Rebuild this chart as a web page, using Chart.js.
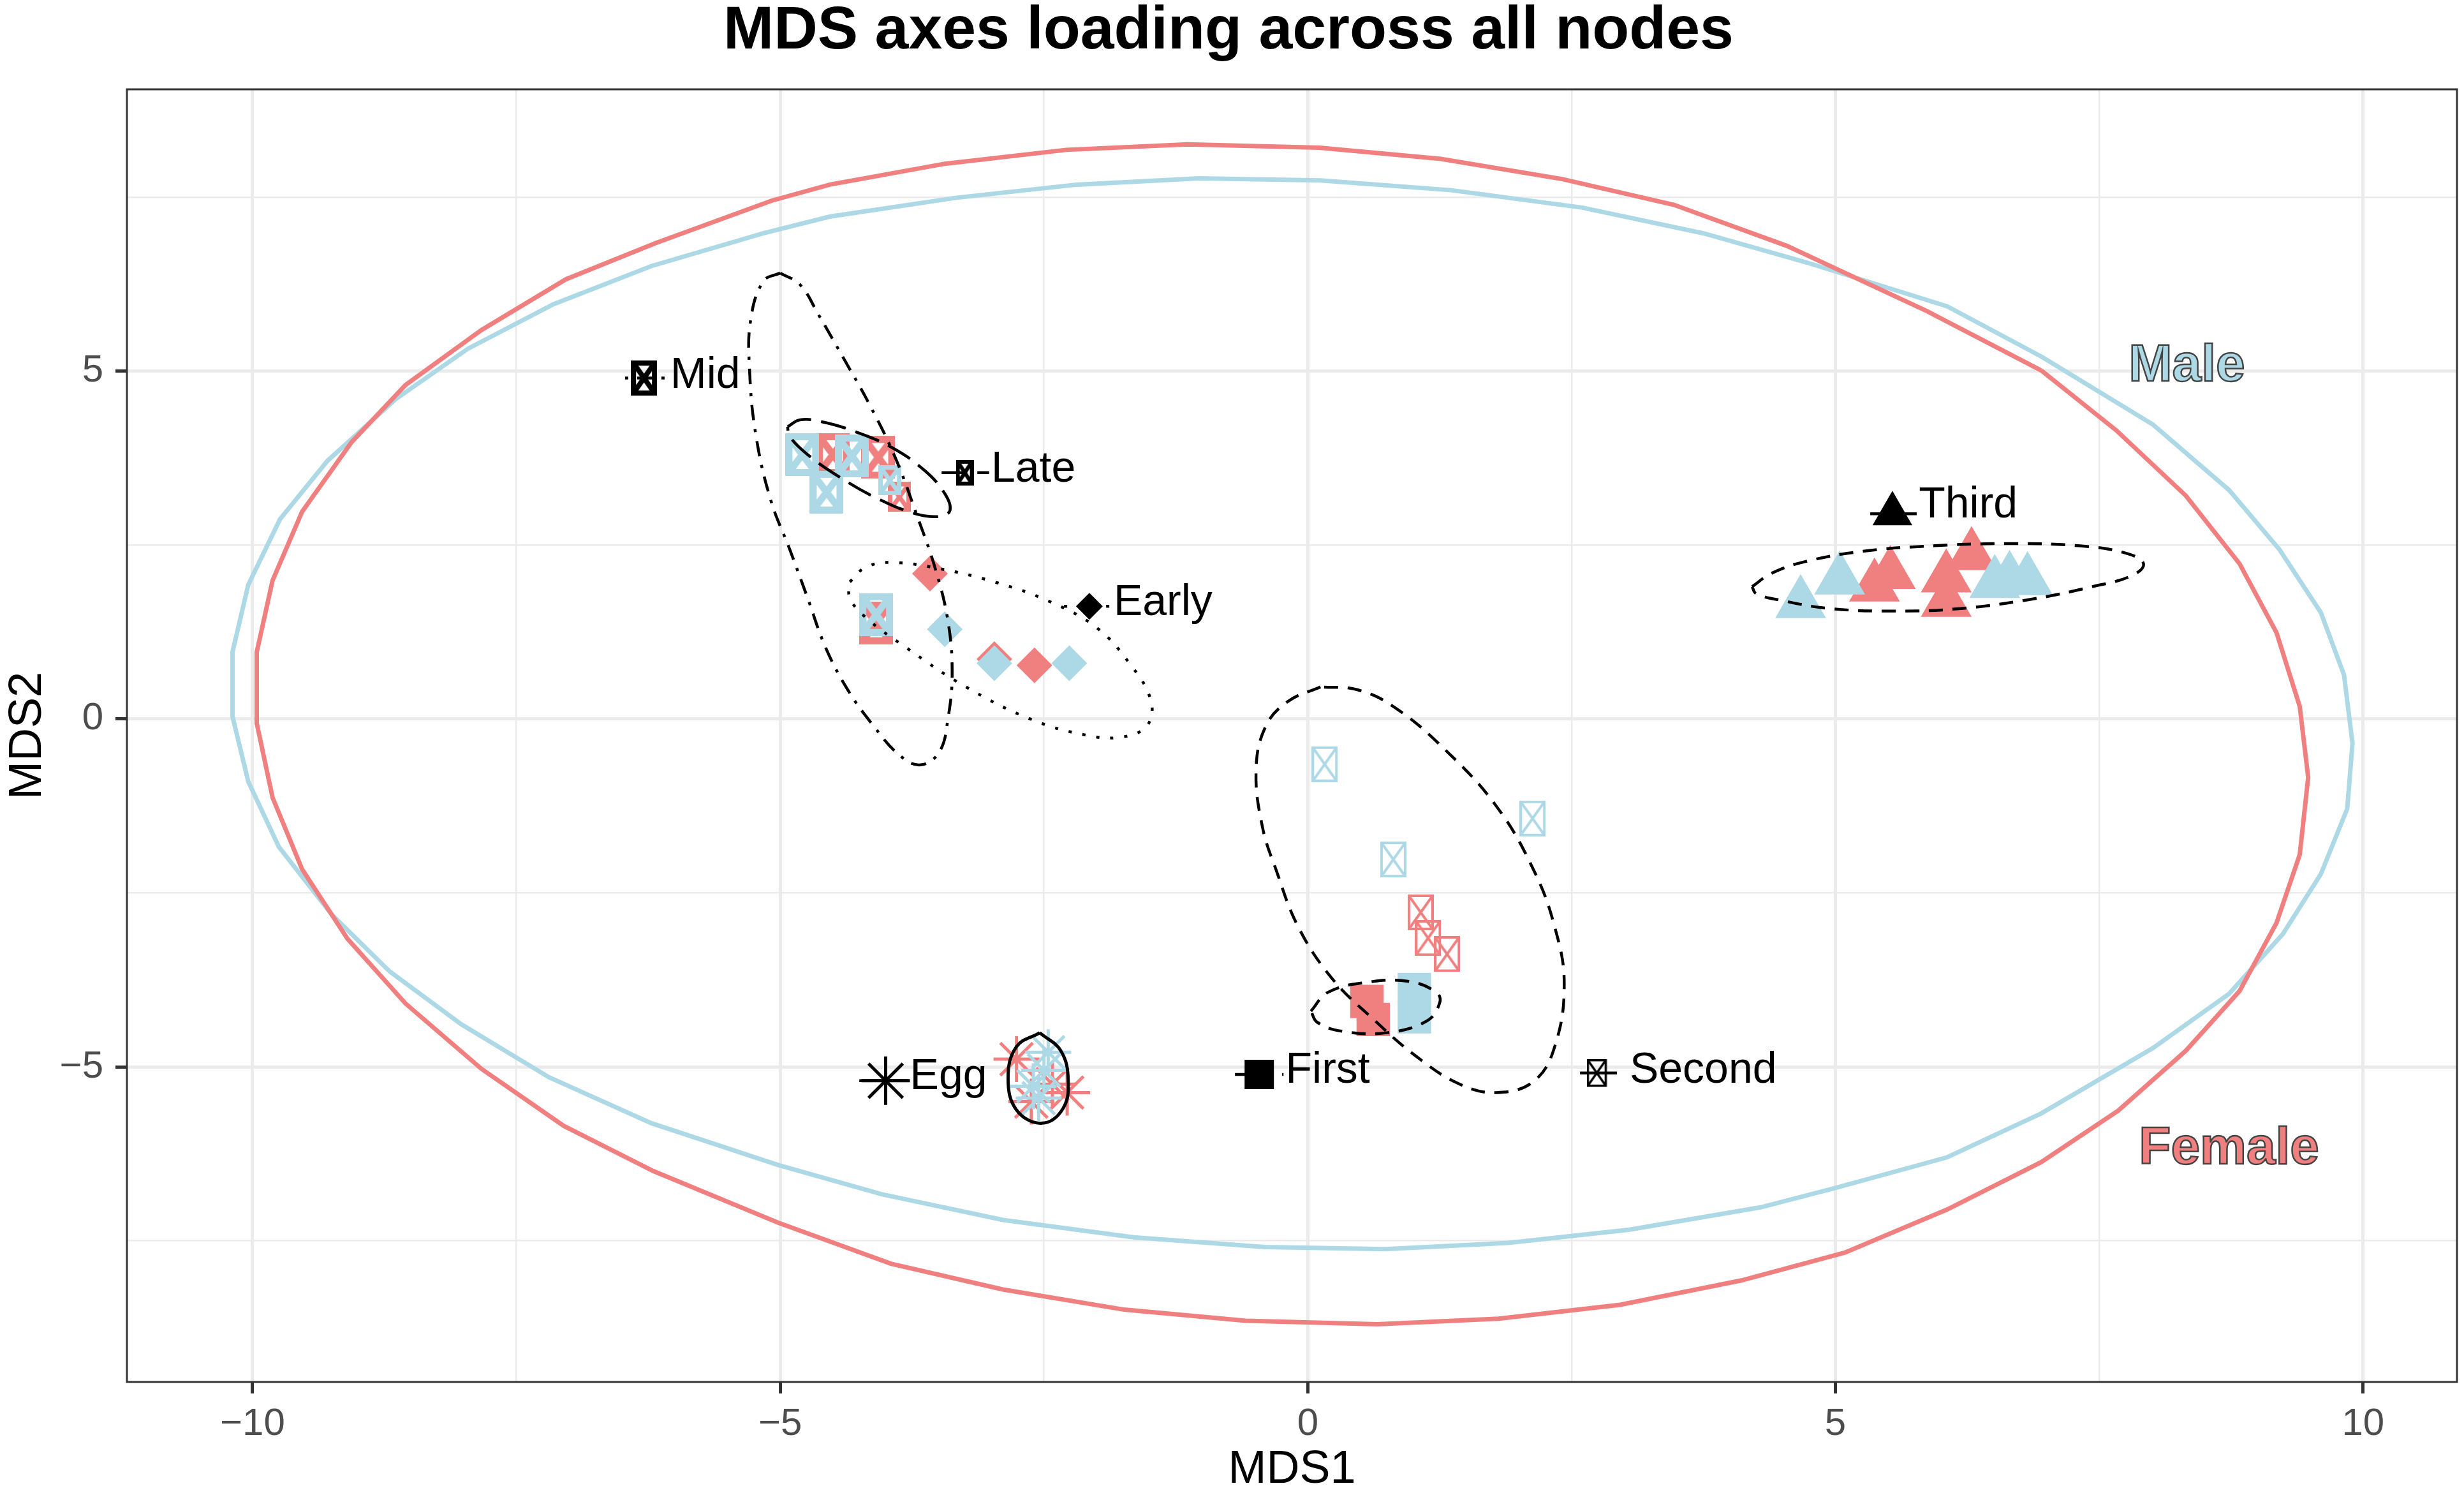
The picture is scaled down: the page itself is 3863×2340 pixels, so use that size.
<!DOCTYPE html>
<html>
<head>
<meta charset="utf-8">
<title>MDS axes loading across all nodes</title>
<script src="https://cdn.jsdelivr.net/npm/chart.js@4.4.1/dist/chart.umd.min.js"></script>
<style>
  html, body { margin: 0; padding: 0; background: #fff; }
  canvas { display: block; }
</style>
</head>
<body>
<canvas id="mds" width="3863" height="2340"></canvas>
<script>
// ---- axis ticks (minor ticks keep an empty label) ----
const xTickValues = [-10, -7.5, -5, -2.5, 0, 2.5, 5, 7.5, 10];
const xTickLabels = ['−10', '', '−5', '', '0', '', '5', '', '10'];
const yTickValues = [-7.5, -5, -2.5, 0, 2.5, 5, 7.5];
const yTickLabels = ['', '−5', '', '0', '', '5', ''];

// ---- stages: label text, key marker and key line (MDS units) ----
const stageNames  = ['Egg', 'Early', 'Mid', 'Late', 'First', 'Second', 'Third'];
const stageTextX  = [-3.77, -1.84, -6.04, -3.00, -0.21, 3.05, 5.79];
const stageTextY  = [-5.32, 1.49, 4.76, 3.41, -5.23, -5.23, 2.90];
const stageKeyX   = [-4.00, -2.07, -6.29, -3.25, -0.46, 2.74, 5.54];
const stageKeyY   = [-5.20, 1.62, 4.90, 3.54, -5.11, -5.09, 2.95];
const keyLineFrom = [-4.25, -2.31, -6.47, -3.47, -0.69, 2.58, 5.33];
const keyLineTo   = [-3.79, -1.84, -6.05, -3.02, -0.23, 2.93, 5.77];

// ---- sample points per stage (MDS1, MDS2) ----
const eggFemale    = [[-2.76, -4.89], [-2.42, -5.25], [-2.28, -5.37], [-2.62, -5.50]];
const eggMale      = [[-2.46, -4.79], [-2.60, -5.28], [-2.50, -5.05], [-2.55, -5.45]];
const earlyFemale  = [[-3.58, 2.09], [-2.97, 0.86], [-2.59, 0.77]];
const earlyMale    = [[-3.44, 1.29], [-2.97, 0.80], [-2.26, 0.80]];
const midFemale    = [[-4.50, 3.80], [-4.07, 3.76], [-4.09, 1.38]];
const midMale      = [[-4.79, 3.80], [-4.56, 3.26], [-4.32, 3.78], [-4.09, 1.50]];
const lateFemale   = [[-3.87, 3.19]];
const lateMale     = [[-3.96, 3.43]];
const firstFemale  = [[0.56, -4.06], [0.62, -4.32]];
const firstMale    = [[1.01, -3.89], [1.01, -4.28]];
const secondFemale = [[1.07, -2.78], [1.14, -3.15], [1.32, -3.38]];
const secondMale   = [[0.16, -0.65], [0.81, -2.02], [2.13, -1.43]];
const thirdFemale  = [[5.37, 1.90], [5.52, 2.08], [6.05, 2.03], [6.05, 1.68], [6.29, 2.35]];
const thirdMale    = [[4.67, 1.66], [5.04, 2.00], [6.51, 1.95], [6.65, 2.01], [6.82, 1.99]];

// ---- confidence ellipses ----
const femaleEllipse = [[6.95,5.01],[5.87,5.86],[4.54,6.80],[3.47,7.39],[2.41,7.76],[1.26,8.05],[0.11,8.21],[-1.14,8.26],[-2.29,8.18],[-3.44,7.98],[-4.53,7.68],[-5.08,7.45],[-6.18,6.84],[-7.03,6.32],[-7.83,5.59],[-8.55,4.80],[-9.06,3.98],[-9.53,2.98],[-9.81,1.99],[-9.96,0.96],[-9.96,-0.06],[-9.81,-1.13],[-9.53,-2.16],[-9.10,-3.16],[-8.55,-4.09],[-7.83,-5.03],[-7.05,-5.85],[-6.20,-6.50],[-5.02,-7.24],[-3.95,-7.83],[-2.89,-8.20],[-1.74,-8.49],[-0.59,-8.65],[0.66,-8.70],[1.81,-8.62],[2.96,-8.42],[4.11,-8.07],[5.09,-7.67],[6.06,-7.05],[6.95,-6.37],[7.68,-5.63],[8.32,-4.77],[8.83,-3.91],[9.18,-2.93],[9.40,-1.95],[9.48,-0.84],[9.40,0.18],[9.18,1.24],[8.83,2.23],[8.32,3.21],[7.66,4.15],[6.95,5.01]];
const maleEllipse = [[6.95,5.21],[6.06,5.93],[4.73,6.56],[3.75,6.98],[2.60,7.35],[1.36,7.60],[0.12,7.74],[-1.03,7.77],[-2.19,7.68],[-3.34,7.49],[-4.53,7.22],[-5.16,6.98],[-6.22,6.51],[-7.15,5.96],[-7.96,5.32],[-8.64,4.60],[-9.29,3.71],[-9.74,2.87],[-10.04,1.93],[-10.19,0.96],[-10.19,0.04],[-10.04,-0.90],[-9.75,-1.84],[-9.25,-2.81],[-8.70,-3.63],[-8.02,-4.39],[-7.19,-5.15],[-6.22,-5.81],[-5.02,-6.41],[-4.04,-6.83],[-2.89,-7.20],[-1.65,-7.45],[-0.41,-7.59],[0.74,-7.62],[1.90,-7.53],[3.05,-7.34],[4.29,-7.02],[5.00,-6.74],[6.06,-6.30],[6.95,-5.67],[8.01,-4.73],[8.73,-3.95],[9.24,-3.09],[9.60,-2.23],[9.85,-1.29],[9.90,-0.35],[9.82,0.63],[9.60,1.53],[9.21,2.43],[8.73,3.29],[8.01,4.23],[6.95,5.21]];
const eggEllipse = [[-2.54,-4.51],[-2.76,-4.71],[-2.84,-5.16],[-2.76,-5.62],[-2.52,-5.81],[-2.32,-5.60],[-2.27,-5.19],[-2.34,-4.77]];
const earlyEllipse = [[-4.34,1.97],[-4.19,2.18],[-3.94,2.25],[-3.49,2.16],[-2.97,1.97],[-2.45,1.69],[-2.00,1.31],[-1.69,0.80],[-1.49,0.28],[-1.52,-0.09],[-1.76,-0.26],[-2.11,-0.23],[-2.63,0.00],[-3.25,0.47],[-3.81,1.03],[-4.19,1.46],[-4.34,1.74]];
const midEllipse = [[-5.00,6.41],[-5.16,6.29],[-5.28,5.73],[-5.29,5.02],[-5.23,4.08],[-5.09,3.15],[-4.91,2.44],[-4.74,1.74],[-4.57,1.03],[-4.36,0.42],[-4.12,-0.09],[-3.87,-0.52],[-3.67,-0.66],[-3.49,-0.47],[-3.41,0.00],[-3.37,0.66],[-3.41,1.41],[-3.53,2.16],[-3.70,2.91],[-3.91,3.76],[-4.15,4.51],[-4.39,5.16],[-4.64,5.82],[-4.81,6.24]];
const lateEllipse = [[-4.93,4.20],[-4.81,4.30],[-4.60,4.27],[-4.29,4.13],[-3.94,3.90],[-3.63,3.57],[-3.44,3.24],[-3.39,3.00],[-3.49,2.91],[-3.74,2.96],[-4.08,3.17],[-4.43,3.47],[-4.74,3.80],[-4.91,4.06]];
const firstEllipse = [[0.03,-4.20],[0.19,-3.93],[0.54,-3.79],[0.95,-3.77],[1.22,-3.93],[1.25,-4.08],[1.13,-4.34],[0.75,-4.51],[0.33,-4.49],[0.09,-4.36]];
const secondEllipse = [[0.12,0.46],[-0.19,0.25],[-0.40,-0.11],[-0.49,-0.73],[-0.43,-1.55],[-0.30,-2.17],[-0.09,-2.99],[0.23,-3.73],[0.61,-4.30],[1.02,-4.84],[1.44,-5.25],[1.79,-5.37],[2.14,-5.21],[2.34,-4.71],[2.43,-3.81],[2.34,-2.99],[2.14,-2.17],[1.79,-1.26],[1.30,-0.44],[0.82,0.17],[0.47,0.42]];
const thirdEllipse = [[4.21,1.90],[4.39,2.09],[4.71,2.26],[5.26,2.41],[5.94,2.49],[6.62,2.52],[7.30,2.49],[7.76,2.38],[7.92,2.23],[7.81,2.06],[7.43,1.90],[6.89,1.73],[6.21,1.59],[5.53,1.55],[4.93,1.59],[4.50,1.70],[4.25,1.80]];

const sexNames  = ['Male', 'Female'];
const sexTextX  = [8.33, 8.73];
const sexTextY  = [4.86, -6.39];

// ---- styling ----
const RED = '#F08080', BLUE = '#ADD8E6', BLACK = '#000000';
const FONT = "'Liberation Sans', Arial, Helvetica, sans-serif";
const DASHED = [22, 15], LONGDASH = [40, 16], DOTTED = [5, 17], DOTDASH = [24, 14, 5, 14];

// square-with-cross marker (R shape 7), drawn once to a little canvas
function boxCross(w, h, lw, color) {
  const c = document.createElement('canvas');
  c.width = Math.ceil(w + lw);
  c.height = Math.ceil(h + lw);
  const g = c.getContext('2d');
  const o = lw / 2;
  g.strokeStyle = color;
  g.lineWidth = lw;
  g.strokeRect(o, o, w, h);
  g.beginPath();
  g.moveTo(o, o); g.lineTo(o + w, o + h);
  g.moveTo(o + w, o); g.lineTo(o, o + h);
  g.stroke();
  return c;
}

function pointStyleFor(stage, color, isKey) {
  switch (stage) {
    case 'Egg':    return { pointStyle: 'star', radius: isKey ? 38 : 36, borderWidth: 5, borderColor: color };
    case 'Early':  return { pointStyle: 'rectRot', radius: isKey ? 21 : 28 };
    case 'Mid':    return { pointStyle: isKey ? boxCross(33, 47, 8, color) : boxCross(42, 56, 11, color), radius: 20 };
    case 'Late':   return { pointStyle: isKey ? boxCross(22, 34, 6, color) : boxCross(29, 40, 7, color), radius: 15 };
    case 'First':  return { pointStyle: 'rect', radius: isKey ? 32.5 : 37 };
    case 'Second': return { pointStyle: isKey ? boxCross(28, 40, 3.5, color) : boxCross(37, 52, 4, color), radius: 18 };
    case 'Third':  return { pointStyle: 'triangle', radius: isKey ? 36 : 46 };
  }
}

const keyDash = { Egg: [], Early: DOTTED, Mid: [5, 14, 24, 14], Late: LONGDASH, First: DASHED, Second: [], Third: [] };
const femaleValues = [eggFemale, earlyFemale, midFemale, lateFemale, firstFemale, secondFemale, thirdFemale];
const maleValues   = [eggMale, earlyMale, midMale, lateMale, firstMale, secondMale, thirdMale];

const toXY = pts => pts.map(([x, y]) => ({ x, y }));
const closed = pts => toXY(pts.concat([pts[0]]));

function pointSet(pts, stage, color, isKey) {
  const s = pointStyleFor(stage, color, isKey);
  return {
    data: toXY(pts),
    pointStyle: s.pointStyle,
    pointRadius: s.radius,
    pointBackgroundColor: color,
    pointBorderColor: s.borderColor || color,
    pointBorderWidth: s.borderWidth || 0,
    showLine: false
  };
}

function lineSet(pts, color, width, dash, tension) {
  return {
    data: pts,
    showLine: true,
    pointRadius: 0,
    borderColor: color,
    borderWidth: width,
    borderDash: dash,
    tension: tension,
    fill: false
  };
}

// first dataset is drawn on top
const datasets = [];
stageNames.forEach((stage, i) => {
  datasets.push(pointSet([[stageKeyX[i], stageKeyY[i]]], stage, BLACK, true));
});
stageNames.forEach((stage, i) => {
  datasets.push(lineSet(toXY([[keyLineFrom[i], stageKeyY[i]], [keyLineTo[i], stageKeyY[i]]]), BLACK, 4.5, keyDash[stage], 0));
});
datasets.push(lineSet(closed(eggEllipse), BLACK, 5, [], 0.4));
datasets.push(lineSet(closed(earlyEllipse), BLACK, 4.5, DOTTED, 0.4));
datasets.push(lineSet(closed(midEllipse), BLACK, 4.5, DOTDASH, 0.4));
datasets.push(lineSet(closed(lateEllipse), BLACK, 4.5, LONGDASH, 0.4));
datasets.push(lineSet(closed(firstEllipse), BLACK, 4.5, DASHED, 0.4));
datasets.push(lineSet(closed(secondEllipse), BLACK, 4.5, DASHED, 0.4));
datasets.push(lineSet(closed(thirdEllipse), BLACK, 4.5, DASHED, 0.4));
datasets.push(lineSet(toXY(femaleEllipse), RED, 7, [], 0));
datasets.push(lineSet(toXY(maleEllipse), BLUE, 7, [], 0));
stageNames.forEach((stage, i) => datasets.push(pointSet(maleValues[i], stage, BLUE, false)));
stageNames.forEach((stage, i) => datasets.push(pointSet(femaleValues[i], stage, RED, false)));

// text labels next to the stage keys, plus Male / Female
const textLabels = {
  id: 'textLabels',
  afterDatasetsDraw(chart) {
    const { ctx, scales: { x, y } } = chart;
    ctx.save();
    ctx.textAlign = 'left';
    ctx.textBaseline = 'alphabetic';
    ctx.fillStyle = BLACK;
    ctx.font = '68px ' + FONT;
    stageNames.forEach((name, i) => {
      ctx.fillText(name, x.getPixelForValue(stageTextX[i]), y.getPixelForValue(stageTextY[i]));
    });
    ctx.textAlign = 'center';
    ctx.font = 'bold 82px ' + FONT;
    ctx.lineWidth = 2.5;
    ctx.strokeStyle = '#444444';
    sexNames.forEach((name, i) => {
      const px = x.getPixelForValue(sexTextX[i]);
      const py = y.getPixelForValue(sexTextY[i]);
      ctx.fillStyle = i === 0 ? BLUE : RED;
      ctx.fillText(name, px, py);
      ctx.strokeText(name, px, py);
    });
    ctx.restore();
  }
};

// panel border like theme_bw
const panelBorder = {
  id: 'panelBorder',
  afterDraw(chart) {
    const { ctx, chartArea: a } = chart;
    ctx.save();
    ctx.strokeStyle = '#333333';
    ctx.lineWidth = 3;
    ctx.strokeRect(a.left, a.top, a.right - a.left, a.bottom - a.top);
    ctx.restore();
  }
};

Chart.defaults.font.family = FONT;

function axisGrid(labels) {
  return {
    color: '#EBEBEB',
    lineWidth: c => (labels[c.index] ? 5 : 2.5),
    tickLength: 18,
    tickWidth: 5,
    tickColor: c => (labels[c.index] ? '#333333' : 'rgba(0,0,0,0)')
  };
}

new Chart(document.getElementById('mds'), {
  type: 'scatter',
  data: { datasets },
  options: {
    responsive: false,
    animation: false,
    devicePixelRatio: 1,
    layout: { autoPadding: false, padding: { left: 0, right: 11, top: 0, bottom: 0 } },
    plugins: {
      legend: { display: false },
      tooltip: { enabled: false },
      title: {
        display: true,
        text: 'MDS axes loading across all nodes',
        color: BLACK,
        font: { size: 95, weight: 'bold', lineHeight: 1 },
        padding: { top: 2, bottom: 43 }
      }
    },
    scales: {
      x: {
        type: 'linear',
        position: 'bottom',
        min: -11.19,
        max: 10.89,
        afterBuildTicks: s => { s.ticks = xTickValues.map(v => ({ value: v })); },
        afterFit: s => { s.height = 174; },
        grid: axisGrid(xTickLabels),
        border: { display: false },
        ticks: {
          callback: (v, i) => xTickLabels[i],
          color: '#4D4D4D',
          font: { size: 60 },
          padding: 12,
          maxRotation: 0,
          autoSkip: false
        },
        title: {
          display: true,
          text: 'MDS1',
          color: BLACK,
          font: { size: 72, lineHeight: 1 },
          padding: { top: 0, bottom: 0 }
        }
      },
      y: {
        type: 'linear',
        position: 'left',
        min: -9.53,
        max: 9.05,
        afterBuildTicks: s => { s.ticks = yTickValues.map(v => ({ value: v })); },
        afterFit: s => { s.width = 199; },
        grid: axisGrid(yTickLabels),
        border: { display: false },
        ticks: {
          callback: (v, i) => yTickLabels[i],
          color: '#4D4D4D',
          font: { size: 60 },
          padding: 19,
          autoSkip: false
        },
        title: {
          display: true,
          text: 'MDS2',
          color: BLACK,
          font: { size: 72, lineHeight: 1 },
          padding: { top: 8, bottom: 0 }
        }
      }
    }
  },
  plugins: [textLabels, panelBorder]
});
</script>
</body>
</html>
